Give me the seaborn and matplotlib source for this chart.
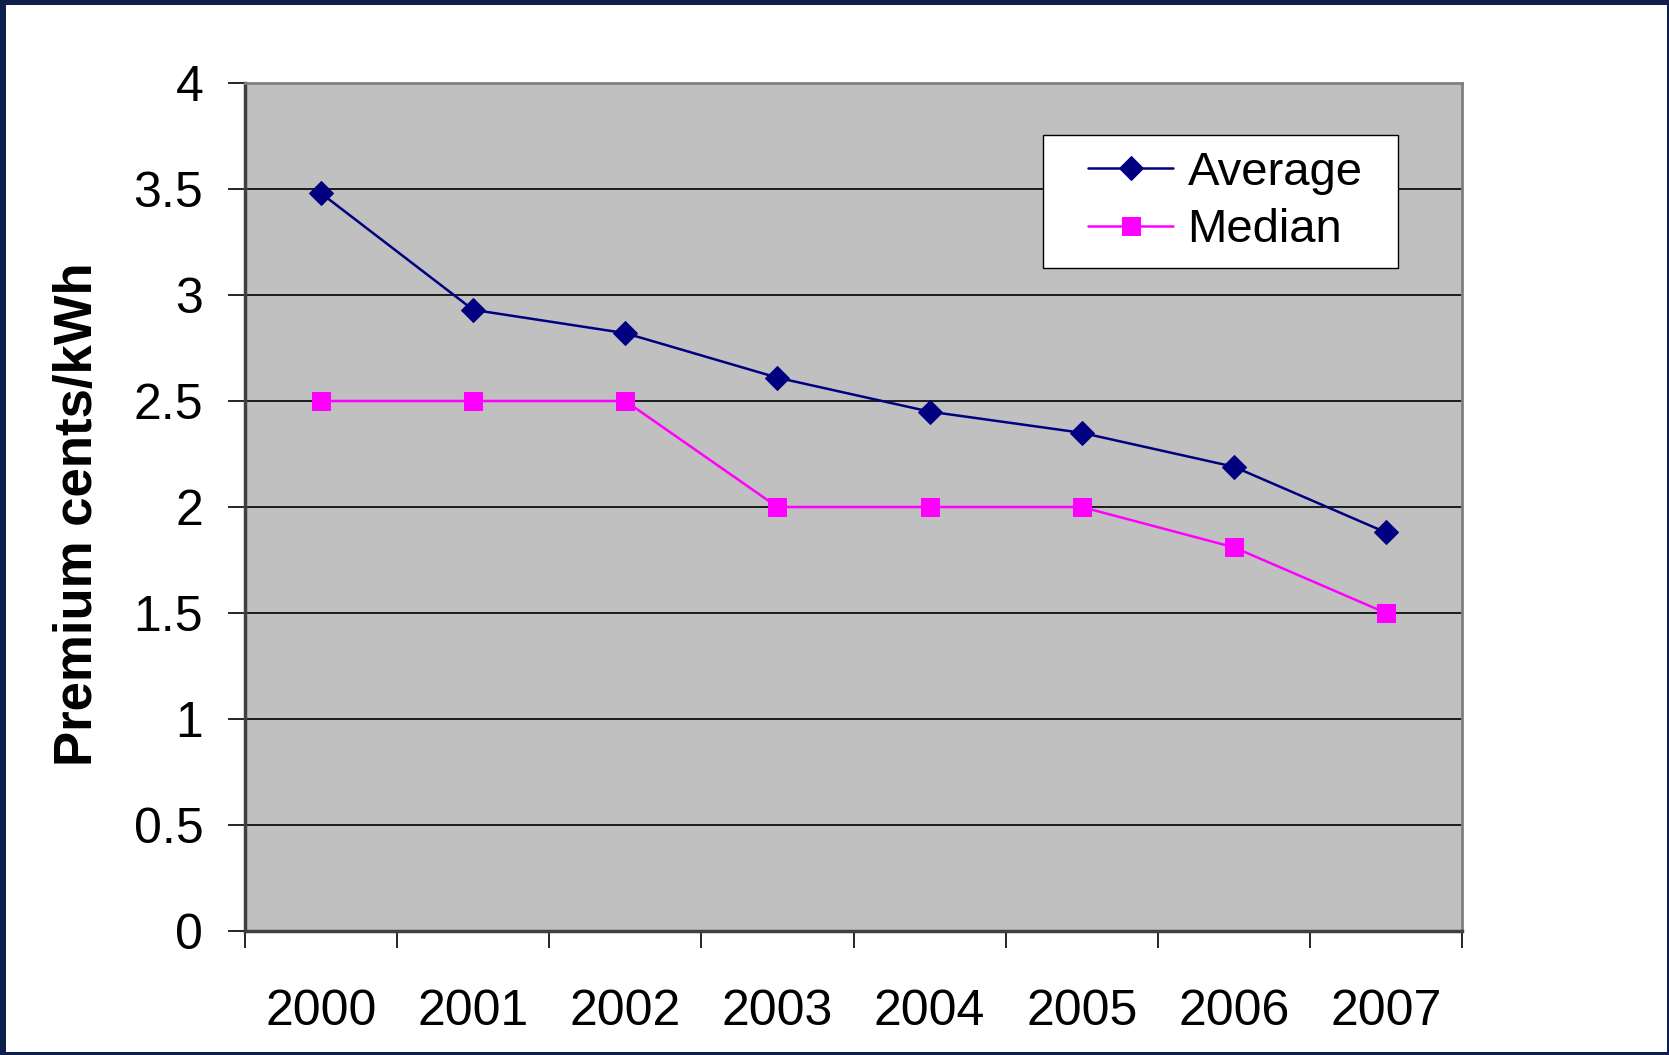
import numpy as np
import pandas as pd
import matplotlib
matplotlib.use('Agg')
import matplotlib.pyplot as plt
from matplotlib.patches import Rectangle
import seaborn as sns

# Data
years = ['2000', '2001', '2002', '2003', '2004', '2005', '2006', '2007']
average = [3.48, 2.93, 2.82, 2.61, 2.45, 2.35, 2.19, 1.88]
median = [2.5, 2.5, 2.5, 2.0, 2.0, 2.0, 1.81, 1.5]

df = pd.DataFrame({'pos': np.arange(len(years)), 'Average': average, 'Median': median})

sns.set_style('white')
plt.rcParams['font.family'] = ['Liberation Sans', 'DejaVu Sans']
plt.rcParams['text.color'] = 'black'
plt.rcParams['axes.labelcolor'] = 'black'
plt.rcParams['xtick.color'] = 'black'
plt.rcParams['ytick.color'] = 'black'

fig = plt.figure(figsize=(16.69, 10.55), dpi=100)
fig.patch.set_facecolor('#0d1f4a')
# white slide area inside the dark frame
fig.add_artist(Rectangle((6 / 1669, 3 / 1055), 1661 / 1669, 1047 / 1055,
                         transform=fig.transFigure, facecolor='white',
                         edgecolor='none', zorder=-10))

ax = fig.add_axes([245 / 1669, 124 / 1055, 1217 / 1669, 848 / 1055])
ax.set_facecolor('#c0c0c0')

sns.lineplot(data=df, x='pos', y='Average', ax=ax, color='#000080', lw=1.8,
             marker='D', markersize=12, markeredgecolor='#000080', label='Average',
             zorder=3)
sns.lineplot(data=df, x='pos', y='Median', ax=ax, color='#ff00ff', lw=1.8,
             marker='s', markersize=13, markeredgecolor='#ff00ff', label='Median',
             zorder=3)

ax.set_xlim(-0.5, len(years) - 0.5)
ax.set_ylim(0, 4)
ax.set_yticks(np.arange(0, 4.01, 0.5))
ax.set_yticklabels(['0', '0.5', '1', '1.5', '2', '2.5', '3', '3.5', '4'])
ax.grid(axis='y', color='black', lw=1.2)
ax.set_axisbelow(True)

# category boundaries as major ticks, year labels at centres
ax.set_xticks(np.arange(-0.5, len(years), 1.0))
ax.set_xticklabels([])
ax.set_xticks(np.arange(len(years)), minor=True)
ax.set_xticklabels(years, minor=True)
ax.tick_params(axis='x', which='major', length=12, width=1.2, color='black', direction='out', bottom=True)
ax.tick_params(axis='x', which='minor', length=0, pad=42, labelsize=36)
ax.tick_params(axis='y', length=12, width=1.2, color='black', direction='out', left=True,
               pad=18, labelsize=36)

for side in ['left', 'bottom']:
    ax.spines[side].set_color('#404040')
    ax.spines[side].set_linewidth(2.5)
for side in ['top', 'right']:
    ax.spines[side].set_color('#808080')
    ax.spines[side].set_linewidth(2)

ax.set_xlabel('')
ax.set_ylabel('Premium cents/kWh', fontsize=38, fontweight='bold')
ax.yaxis.set_label_coords(-0.117, 0.492)

# legend box drawn behind a frameless legend
box_x0, box_x1 = 0.6557, 0.9474
box_y0, box_y1 = 0.7818, 0.9387
ax.add_patch(Rectangle((box_x0, box_y0), box_x1 - box_x0, box_y1 - box_y0,
                       transform=ax.transAxes, facecolor='white', edgecolor='black',
                       lw=1, zorder=4))
leg = ax.legend(loc='center', bbox_to_anchor=((box_x0 + box_x1) / 2 + 0.004, (box_y0 + box_y1) / 2),
                fontsize=34, frameon=False, handlelength=1.8, borderpad=0,
                labelspacing=0.28, handletextpad=0.3, borderaxespad=0)
leg.set_zorder(5)

fig.savefig('out.png', dpi=100, facecolor=fig.get_facecolor())
